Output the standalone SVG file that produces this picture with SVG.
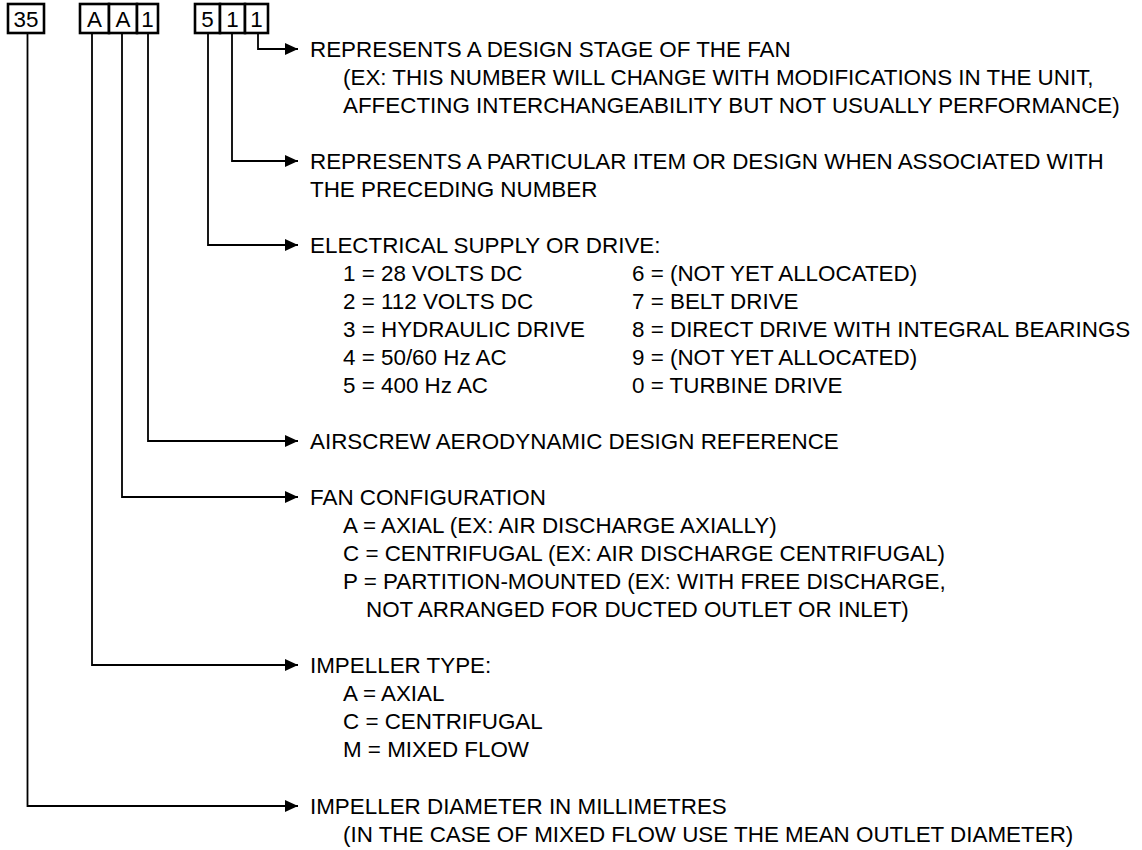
<svg xmlns="http://www.w3.org/2000/svg" width="1142" height="850" viewBox="0 0 1142 850">
<style>
text{font-family:"Liberation Sans",Arial,sans-serif;font-size:22.4px;fill:#000}
.box{fill:#fff;stroke:#000;stroke-width:2.6}
.ctr{text-anchor:middle}
.con{fill:none;stroke:#000;stroke-width:1.8}
</style>
<defs>
<marker id="ah" markerUnits="userSpaceOnUse" markerWidth="14" markerHeight="12" refX="13" refY="6" orient="auto">
<path d="M0,0 L13,6 L0,12 z" fill="#000"/>
</marker>
</defs>
<rect width="1142" height="850" fill="#fff"/>
<g id="connectors">
<path class="con" d="M258 33 V49 H298" marker-end="url(#ah)"/>
<path class="con" d="M232 33 V161 H298" marker-end="url(#ah)"/>
<path class="con" d="M208 33 V245 H298" marker-end="url(#ah)"/>
<path class="con" d="M148 33 V441 H298" marker-end="url(#ah)"/>
<path class="con" d="M122 33 V497 H298" marker-end="url(#ah)"/>
<path class="con" d="M92 33 V665 H298" marker-end="url(#ah)"/>
<path class="con" d="M27.5 33 V806 H298" marker-end="url(#ah)"/>
</g>
<g id="code-35">
<rect class="box" x="8" y="4" width="36" height="29"/>
<text class="ctr" x="26" y="26.5">35</text>
</g>
<g id="code-AA1">
<rect class="box" x="80" y="4" width="29" height="29"/>
<rect class="box" x="109" y="4" width="28" height="29"/>
<rect class="box" x="137" y="4" width="21" height="29"/>
<text class="ctr" x="94.5" y="26.5">A</text>
<text class="ctr" x="123" y="26.5">A</text>
<text class="ctr" x="147.5" y="26.5">1</text>
</g>
<g id="code-511">
<rect class="box" x="195" y="4" width="25" height="29"/>
<rect class="box" x="220" y="4" width="25" height="29"/>
<rect class="box" x="245" y="4" width="23" height="29"/>
<text class="ctr" x="207.5" y="26.5">5</text>
<text class="ctr" x="232.5" y="26.5">1</text>
<text class="ctr" x="256.5" y="26.5">1</text>
</g>
<g id="design-stage">
<text x="310" y="56.5">REPRESENTS A DESIGN STAGE OF THE FAN</text>
<text x="343" y="84.5">(EX: THIS NUMBER WILL CHANGE WITH MODIFICATIONS IN THE UNIT,</text>
<text x="343" y="112.5">AFFECTING INTERCHANGEABILITY BUT NOT USUALLY PERFORMANCE)</text>
</g>
<g id="particular-item">
<text x="310" y="168.5">REPRESENTS A PARTICULAR ITEM OR DESIGN WHEN ASSOCIATED WITH</text>
<text x="310" y="196.5">THE PRECEDING NUMBER</text>
</g>
<g id="electrical">
<text x="310" y="252.5">ELECTRICAL SUPPLY OR DRIVE:</text>
<text x="343" y="280.5">1 = 28 VOLTS DC</text>
<text x="632" y="280.5">6 = (NOT YET ALLOCATED)</text>
<text x="343" y="308.5">2 = 112 VOLTS DC</text>
<text x="632" y="308.5">7 = BELT DRIVE</text>
<text x="343" y="336.5">3 = HYDRAULIC DRIVE</text>
<text x="632" y="336.5">8 = DIRECT DRIVE WITH INTEGRAL BEARINGS</text>
<text x="343" y="364.5">4 = 50/60 Hz AC</text>
<text x="632" y="364.5">9 = (NOT YET ALLOCATED)</text>
<text x="343" y="392.5">5 = 400 Hz AC</text>
<text x="632" y="392.5">0 = TURBINE DRIVE</text>
</g>
<g id="airscrew">
<text x="310" y="448.5">AIRSCREW AERODYNAMIC DESIGN REFERENCE</text>
</g>
<g id="fan-config">
<text x="310" y="504.5">FAN CONFIGURATION</text>
<text x="343" y="532.5">A = AXIAL (EX: AIR DISCHARGE AXIALLY)</text>
<text x="343" y="560.5">C = CENTRIFUGAL (EX: AIR DISCHARGE CENTRIFUGAL)</text>
<text x="343" y="588.5">P = PARTITION-MOUNTED (EX: WITH FREE DISCHARGE,</text>
<text x="366" y="616.5">NOT ARRANGED FOR DUCTED OUTLET OR INLET)</text>
</g>
<g id="impeller-type">
<text x="310" y="672.5">IMPELLER TYPE:</text>
<text x="343" y="700.5">A = AXIAL</text>
<text x="343" y="728.5">C = CENTRIFUGAL</text>
<text x="343" y="756.5">M = MIXED FLOW</text>
</g>
<g id="impeller-diameter">
<text x="310" y="813.5">IMPELLER DIAMETER IN MILLIMETRES</text>
<text x="343" y="841.5">(IN THE CASE OF MIXED FLOW USE THE MEAN OUTLET DIAMETER)</text>
</g>
</svg>
